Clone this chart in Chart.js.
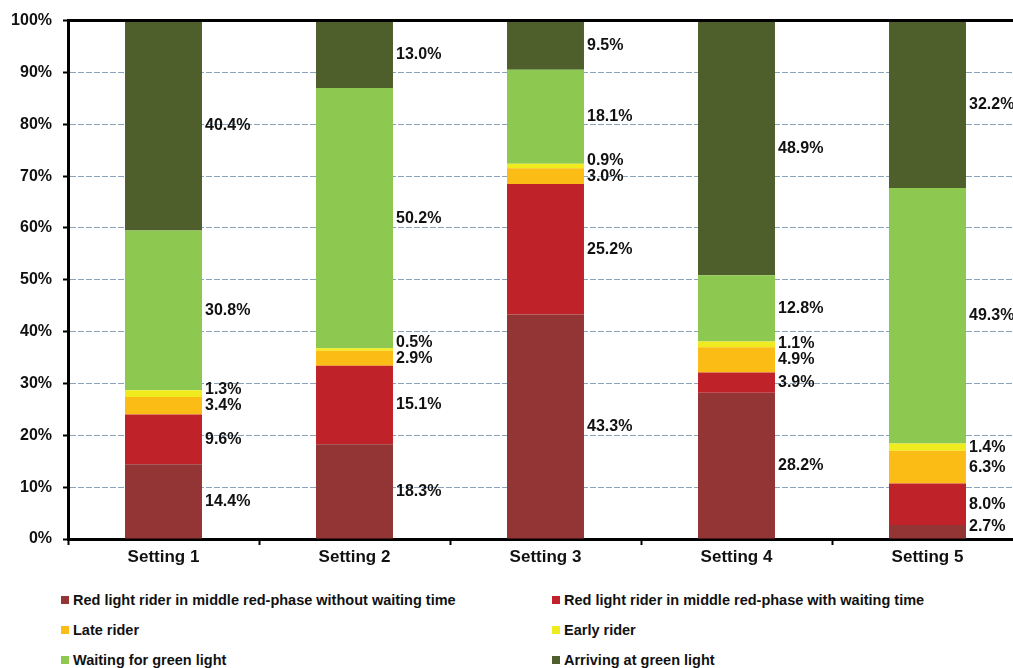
<!DOCTYPE html>
<html>
<head>
<meta charset="utf-8">
<script src="https://cdn.jsdelivr.net/npm/chart.js@4.4.1/dist/chart.umd.min.js"></script>
<style>
  html, body { margin: 0; padding: 0; background: #fff; overflow: hidden; }
  #wrap { position: relative; width: 1040px; height: 580px; }
  #legend {
    position: absolute; left: 61px; top: 590px;
    display: grid; grid-template-columns: 491px 460px; row-gap: 11px;
    font: bold 14.5px "Liberation Sans", Arial, sans-serif; color: #111;
  }
  .item { display: flex; align-items: center; height: 19px; white-space: nowrap; }
  .box { width: 8px; height: 8px; margin-right: 4px; }
</style>
</head>
<body>
<div id="wrap"><canvas id="chart" width="1040" height="580"></canvas></div>
<div id="legend"></div>
<script>
const categories = ['Setting 1', 'Setting 2', 'Setting 3', 'Setting 4', 'Setting 5'];
const seriesNames = [
  'Red light rider in middle red-phase without waiting time',
  'Red light rider in middle red-phase with waiting time',
  'Late rider',
  'Early rider',
  'Waiting for green light',
  'Arriving at green light'
];
const seriesColors = ['#923534', '#c0222a', '#fbbd15', '#f0eb1f', '#8dc850', '#4e5f2b'];

const withoutWaiting = [14.4, 18.3, 43.3, 28.2, 2.7];
const withWaiting    = [9.6, 15.1, 25.2, 3.9, 8.0];
const lateRider      = [3.4, 2.9, 3.0, 4.9, 6.3];
const earlyRider     = [1.3, 0.5, 0.9, 1.1, 1.4];
const waitingGreen   = [30.8, 50.2, 18.1, 12.8, 49.3];
const arrivingGreen  = [40.4, 13.0, 9.5, 48.9, 32.2];

const yTicks = [0, 10, 20, 30, 40, 50, 60, 70, 80, 90, 100];

const seriesValues = [withoutWaiting, withWaiting, lateRider, earlyRider, waitingGreen, arrivingGreen];
const FONT = '"Liberation Sans", Arial, sans-serif';

// labels to the right of each segment, pushed up when they would collide
const segmentLabels = {
  id: 'segmentLabels',
  afterDatasetsDraw(chart) {
    const ctx = chart.ctx;
    const bottom = chart.chartArea.bottom;
    ctx.save();
    ctx.font = 'bold 16px ' + FONT;
    ctx.fillStyle = '#111';
    ctx.textAlign = 'left';
    ctx.textBaseline = 'middle';
    chart.data.labels.forEach((_, i) => {
      let prev = null;
      chart.data.datasets.forEach((ds, d) => {
        const bar = chart.getDatasetMeta(d).data[i];
        let y = (bar.y + bar.base) / 2;
        if (prev === null) y = Math.min(y, bottom - 12);
        else y = Math.min(y, prev - 16);
        prev = y;
        ctx.fillText(ds.data[i].toFixed(1) + '%', bar.x + bar.width / 2 + 3, y);
      });
    });
    ctx.restore();
  }
};

const topLine = {
  id: 'topLine',
  afterDraw(chart) {
    const {ctx, chartArea} = chart;
    ctx.save();
    ctx.strokeStyle = '#000';
    ctx.lineWidth = 3;
    ctx.beginPath();
    ctx.moveTo(chartArea.left - 1, chartArea.top);
    ctx.lineTo(chartArea.right, chartArea.top);
    ctx.stroke();
    ctx.restore();
  }
};

const chart = new Chart(document.getElementById('chart'), {
  type: 'bar',
  data: {
    labels: categories,
    datasets: seriesValues.map((vals, k) => ({
      label: seriesNames[k],
      data: vals,
      backgroundColor: seriesColors[k],
      borderWidth: 0,
      categoryPercentage: 1,
      barPercentage: 0.403
    }))
  },
  options: {
    responsive: false,
    animation: false,
    devicePixelRatio: 1,
    layout: { padding: { left: 0, top: 17, right: 17, bottom: 0 } },
    plugins: { legend: { display: false }, tooltip: { enabled: false } },
    scales: {
      x: {
        stacked: true,
        afterFit: s => { s.height = 41; },
        grid: { display: true, drawOnChartArea: false, drawTicks: true, offset: true,
                tickLength: 6, tickColor: '#000', tickWidth: 2 },
        border: { color: '#000', width: 3 },
        ticks: { color: '#111', padding: 2, font: { family: FONT, size: 17, weight: 'bold' } }
      },
      y: {
        stacked: true,
        min: 0,
        max: 100,
        afterFit: s => { s.width = 68; },
        afterBuildTicks: s => { s.ticks = yTicks.map(v => ({ value: v })); },
        grid: {
          color: c => (c.tick && (c.tick.value === 0 || c.tick.value === 100)) ? 'rgba(0,0,0,0)' : '#8aa2ba',
          lineWidth: 1,
          tickLength: 5, tickColor: '#000', tickWidth: 2
        },
        border: { color: '#000', width: 3, dash: [6, 2] },
        ticks: {
          color: '#111', padding: 11,
          font: { family: FONT, size: 16, weight: 'bold' },
          callback: v => v + '%'
        }
      }
    }
  },
  plugins: [segmentLabels, topLine]
});

const legend = document.getElementById('legend');
chart.data.datasets.forEach(ds => {
  const item = document.createElement('div');
  item.className = 'item';
  const box = document.createElement('span');
  box.className = 'box';
  box.style.background = ds.backgroundColor;
  const txt = document.createElement('span');
  txt.textContent = ds.label;
  item.appendChild(box);
  item.appendChild(txt);
  legend.appendChild(item);
});
</script>
</body>
</html>
